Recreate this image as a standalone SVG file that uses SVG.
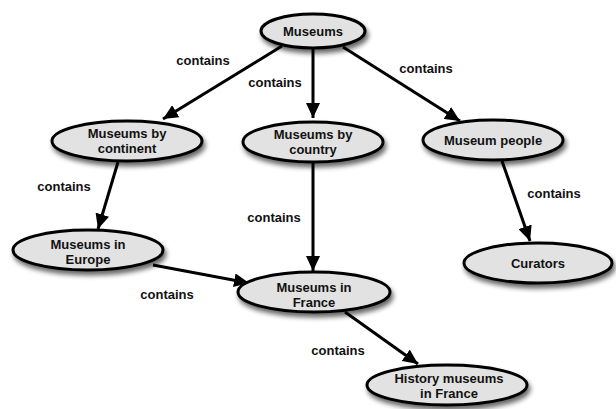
<svg xmlns="http://www.w3.org/2000/svg" width="616" height="409" viewBox="0 0 616 409">
<defs>
<filter id="sh" x="-20%" y="-30%" width="150%" height="180%">
<feGaussianBlur in="SourceAlpha" stdDeviation="2.5"/>
<feOffset dx="2" dy="4" result="b"/>
<feComponentTransfer><feFuncA type="linear" slope="0.6"/></feComponentTransfer>
<feMerge><feMergeNode/><feMergeNode in="SourceGraphic"/></feMerge>
</filter>
<marker id="ah" markerUnits="userSpaceOnUse" markerWidth="16" markerHeight="14" refX="15" refY="7" orient="auto">
<path d="M0,0 L15,7 L0,14 z" fill="#000"/>
</marker>
</defs>
<style>
.n ellipse{fill:#e2e2e2;stroke:#000;stroke-width:3;filter:url(#sh)}
text{font-family:"Liberation Sans",Arial,sans-serif;font-weight:bold;font-size:13px;fill:#111;text-anchor:middle}
.e line{stroke:#000;stroke-width:3;marker-end:url(#ah)}
</style>
<g id="edges" class="e">
<line x1="282" y1="46" x2="163" y2="119"/>
<line x1="313" y1="49" x2="313" y2="118"/>
<line x1="343" y1="47" x2="460" y2="121"/>
<line x1="118" y1="162" x2="98" y2="229"/>
<line x1="313" y1="163" x2="313" y2="271"/>
<line x1="502" y1="161" x2="530" y2="241"/>
<line x1="153" y1="265" x2="249" y2="283"/>
<line x1="345" y1="312" x2="418" y2="364"/>
<text x="203" y="65">contains</text>
<text x="275" y="87">contains</text>
<text x="426" y="73">contains</text>
<text x="64" y="191">contains</text>
<text x="274" y="222">contains</text>
<text x="554" y="198">contains</text>
<text x="167" y="299">contains</text>
<text x="338" y="355">contains</text>
</g>
<g id="museums" class="n"><ellipse cx="313" cy="31" rx="52" ry="17"/><text x="313" y="36">Museums</text></g>
<g id="by-continent" class="n"><ellipse cx="127" cy="141" rx="75" ry="20"/><text x="127" y="138">Museums by</text><text x="127" y="153">continent</text></g>
<g id="by-country" class="n"><ellipse cx="313" cy="142" rx="70" ry="20"/><text x="313" y="139">Museums by</text><text x="313" y="154">country</text></g>
<g id="people" class="n"><ellipse cx="493" cy="140" rx="70" ry="20"/><text x="493" y="145">Museum people</text></g>
<g id="curators" class="n"><ellipse cx="538" cy="263" rx="74" ry="20"/><text x="538" y="268">Curators</text></g>
<g id="europe" class="n"><ellipse cx="88" cy="250" rx="75" ry="20"/><text x="88" y="249">Museums in</text><text x="88" y="264">Europe</text></g>
<g id="france" class="n"><ellipse cx="314" cy="292" rx="76" ry="20"/><text x="314" y="292">Museums in</text><text x="314" y="307">France</text></g>
<g id="history" class="n"><ellipse cx="447" cy="385" rx="80" ry="20"/><text x="449" y="383">History museums</text><text x="449" y="398">in France</text></g>
</svg>
